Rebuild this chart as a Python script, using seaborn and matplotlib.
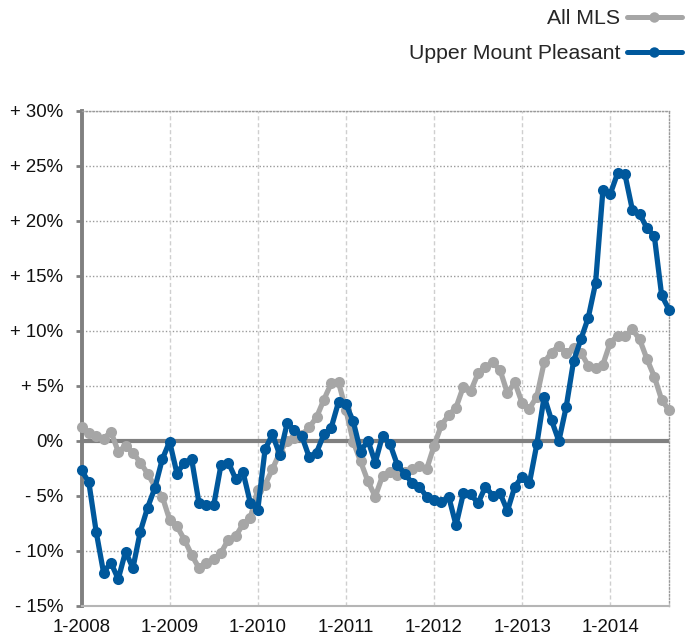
import numpy as np
import pandas as pd
import matplotlib
matplotlib.use("Agg")
import matplotlib.pyplot as plt
import seaborn as sns

# ---- data ----
series_names = ["All MLS", "Upper Mount Pleasant"]
tick_labels = ["1-2008", "1-2009", "1-2010", "1-2011", "1-2012", "1-2013", "1-2014"]
y_tick_values = [30, 25, 20, 15, 10, 5, 0, -5, -10, -15]
y_tick_labels = ["+ 30%", "+ 25%", "+ 20%", "+ 15%", "+ 10%", "+ 5%", "0%",
                 "- 5%", "- 10%", "- 15%"]

all_mls = [
    1.2, 0.7, 0.45, 0.15, 0.8, -1.0, -0.5, -1.1, -2.0, -3.0, -4.2, -5.1,
    -7.2, -7.8, -9.0, -10.4, -11.6, -11.1, -10.8, -10.2, -9.0, -8.7, -7.6, -7.0,
    -4.5, -4.0, -2.6, -1.1, 0.0, 0.25, 0.5, 1.2, 2.1, 3.7, 5.2, 5.3,
    2.8, -0.1, -1.9, -3.7, -5.1, -3.2, -2.9, -3.1, -2.9, -2.6, -2.3, -2.6,
    -0.5, 1.4, 2.3, 3.0, 4.9, 4.5, 6.1, 6.7, 7.1, 6.4, 4.3, 5.3,
    3.4, 2.9, 4.0, 7.1, 8.0, 8.6, 8.0, 8.4, 8.0, 6.8, 6.6, 6.9,
    8.9, 9.5, 9.5, 10.1, 9.2, 7.4, 5.8, 3.7, 2.75,
]
upper_mount_pleasant = [
    -2.7, -3.8, -8.3, -12.0, -11.1, -12.6, -10.1, -11.6, -8.3, -6.1, -4.3, -1.7,
    -0.1, -3.0, -2.0, -1.7, -5.7, -5.9, -5.9, -2.2, -2.0, -3.5, -2.9, -5.7,
    -6.3, -0.8, 0.55, -1.3, 1.55, 1.0, 0.4, -1.5, -1.1, 0.55, 1.15, 3.5,
    3.3, 1.75, -1.0, 0.0, -2.0, 0.45, -0.3, -2.2, -3.0, -3.85, -4.2, -5.1,
    -5.4, -5.6, -5.1, -7.7, -4.8, -4.9, -5.7, -4.2, -5.0, -4.8, -6.4, -4.2,
    -3.3, -3.85, -0.35, 4.0, 1.85, -0.05, 3.05, 7.2, 9.2, 11.15, 14.3, 22.75,
    22.4, 24.3, 24.2, 21.0, 20.6, 19.3, 18.6, 13.2, 11.9,
]

months = np.arange(len(all_mls))
df = pd.DataFrame({
    "month": np.concatenate([months, months]),
    "value": all_mls + upper_mount_pleasant,
    "series": [series_names[0]] * len(all_mls) + [series_names[1]] * len(upper_mount_pleasant),
})

sns.set_style("white")
plt.rcParams["font.family"] = ["Liberation Sans", "DejaVu Sans"]

fig = plt.figure(figsize=(6.92, 6.36), dpi=100)
ax = fig.add_axes([81.5 / 692, 1 - 605.5 / 636, (669 - 81.5) / 692, (605.5 - 110.5) / 636])

palette = {"All MLS": "#a6a6a6", "Upper Mount Pleasant": "#00589c"}

# grid
for v in y_tick_values:
    if v not in (0, -15):
        ax.axhline(v, color="#9a9a9a", lw=1.0, ls=(0, (1, 1.5)), zorder=0.5)
for k in range(1, len(tick_labels)):
    ax.axvline(12 * k, color="#cfcfcf", lw=1.0, ls=(0, (3, 2)), zorder=0.5)
ax.axhline(0, color="#808080", lw=3.0, zorder=1)

sns.lineplot(data=df, x="month", y="value", hue="series", hue_order=series_names,
             palette=palette, marker="o", markersize=8.0, markeredgewidth=0,
             linewidth=3.8, ax=ax, zorder=3, clip_on=False)

ax.set_xlim(0, 80)
ax.set_ylim(-15, 30)
ax.set_xticks([12 * k for k in range(len(tick_labels))])
ax.set_xticklabels(tick_labels, fontsize=13.4, color="#111111")
ax.set_yticks(y_tick_values)
ax.set_yticklabels(y_tick_labels, fontsize=13.4, color="#111111")
ax.set_xlabel("")
ax.set_ylabel("")
ax.tick_params(axis="x", length=0, pad=9.5)
ax.tick_params(axis="y", length=4, width=2, color="#808080", pad=9, left=True)

for side in ["top", "right"]:
    ax.spines[side].set_visible(True)
    ax.spines[side].set_color("#9a9a9a")
    ax.spines[side].set_linewidth(1.0)
    ax.spines[side].set_linestyle((0, (1, 1.5)))
ax.spines["left"].set_color("#808080")
ax.spines["left"].set_linewidth(2.8)
ax.spines["bottom"].set_color("#b5b5b5")
ax.spines["bottom"].set_linewidth(1.5)

handles, labels = ax.get_legend_handles_labels()
for h in handles:
    h.set_linewidth(3.6)
    h.set_markersize(7.5)
ax.legend(handles, labels, loc="upper right", bbox_to_anchor=(682 / 692, 1 - 9 / 636),
          bbox_transform=fig.transFigure, frameon=False, markerfirst=False,
          fontsize=15.3, handlelength=2.6, handletextpad=0.3, labelspacing=0.75,
          borderpad=0, borderaxespad=0, numpoints=1)

fig.savefig("out.png", dpi=100)
